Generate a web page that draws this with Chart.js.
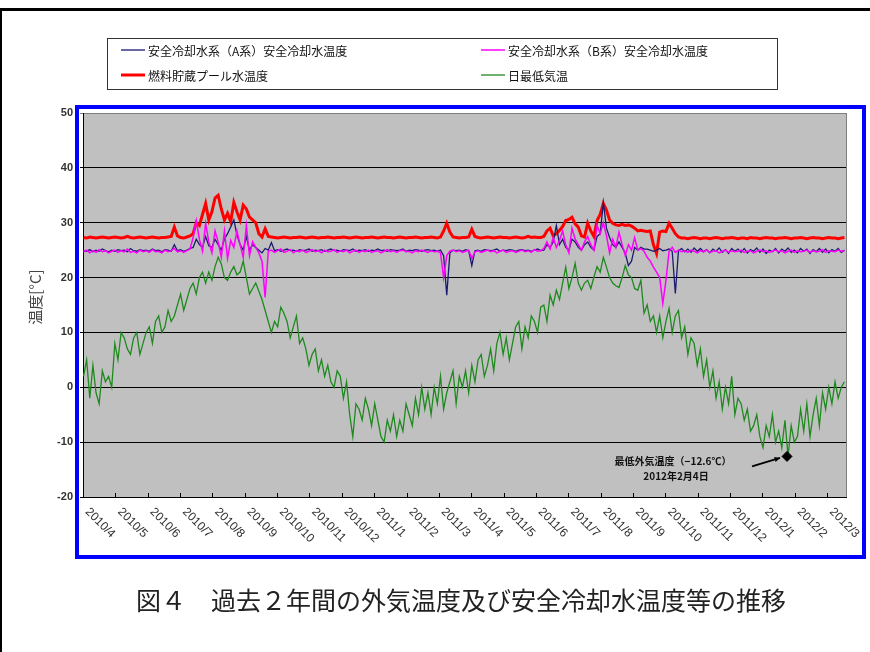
<!DOCTYPE html>
<html><head><meta charset="utf-8">
<script src="https://cdn.jsdelivr.net/npm/chart.js@4.4.1/dist/chart.umd.min.js"></script>
<style>html,body{margin:0;padding:0;background:#fff}canvas{display:block}</style>
</head><body>
<canvas id="c" width="870" height="652"></canvas>
<script>
// ---- names / labels ----
const seriesNames = ['安全冷却水系（A系）安全冷却水温度', '安全冷却水系（B系）安全冷却水温度', '燃料貯蔵プール水温度', '日最低気温'];
const xTickLabels = ['2010/4','2010/5','2010/6','2010/7','2010/8','2010/9','2010/10','2010/11','2010/12',
  '2011/1','2011/2','2011/3','2011/4','2011/5','2011/6','2011/7','2011/8','2011/9','2011/10','2011/11','2011/12',
  '2012/1','2012/2','2012/3'];
const chartTitle = '図４　過去２年間の外気温度及び安全冷却水温度等の推移';
const yTitle = '温度[°C]';
const noteLines = ['最低外気温度（−12.6℃）', '2012年2月4日'];

// days since 2010/4/1, one sample every 3 days
const dayIndex = Array.from({length: 244}, (_, i) => i * 3);
const totalDays = 731;
const daysPerLabel = 31;
const lowestDay = 674;      // 2012/2/4
const lowestValue = -12.6;

// 安全冷却水系（A系）
const coolingA = [
 24.9,24.8,25.1,24.7,25.0,24.8,25.2,24.9,24.7,25.0,
 24.8,25.1,24.9,25.0,24.7,25.3,24.9,24.8,25.1,24.9,
 25.0,24.8,25.2,24.9,25.0,24.7,25.1,25.0,24.8,26.0,
 24.9,25.1,24.8,25.0,25.3,25.5,27.0,26.0,25.5,27.5,
 25.8,25.5,27.0,26.0,25.0,27.0,28.0,29.2,30.5,27.8,
 26.0,25.0,27.5,25.0,26.0,25.5,25.0,24.5,25.3,25.0,
 26.4,24.9,25.1,24.8,25.0,25.2,24.9,25.0,24.8,25.1,
 24.9,25.0,25.2,24.8,25.0,24.9,25.1,24.8,25.0,25.2,
 24.9,25.0,24.8,25.1,25.0,24.9,25.2,24.8,25.0,24.9,
 25.1,24.8,25.0,24.9,25.2,24.9,25.0,24.8,25.1,25.0,
 24.9,25.0,25.2,24.8,25.0,24.9,25.1,25.0,24.8,25.0,
 25.1,24.9,25.0,24.8,25.0,24.0,16.8,24.5,25.0,24.9,
 25.0,24.8,25.1,24.9,22.2,24.9,25.0,24.8,25.1,25.0,
 24.9,25.0,25.2,24.8,25.0,24.9,25.1,25.0,24.8,25.0,
 25.1,24.9,25.0,24.8,25.0,25.2,24.9,25.0,26.0,25.5,
 26.5,29.5,26.0,27.0,25.5,25.0,27.0,26.5,25.5,25.0,
 26.0,26.5,25.5,25.0,27.5,28.0,33.7,29.0,27.3,26.0,
 25.5,26.5,25.5,24.5,22.2,23.0,25.5,25.0,25.5,25.2,
 25.2,25.0,24.8,25.0,25.3,24.9,25.0,25.2,24.8,17.1,
 24.9,25.3,24.7,25.2,24.6,25.4,24.8,25.3,24.7,25.1,
 24.5,25.2,24.8,25.4,24.6,25.1,24.4,25.3,24.8,25.2,
 24.6,25.3,24.5,25.1,24.8,25.4,24.6,25.2,24.4,25.0,
 24.7,25.3,24.5,25.2,24.8,25.4,24.6,25.0,24.5,25.3,
 24.8,25.2,24.4,25.1,24.7,25.3,24.6,25.2,24.5,25.1,
 24.8,25.3,24.6,25.0
];

// 安全冷却水系（B系）
const coolingB = [
 24.7,25.0,24.5,24.9,24.6,25.1,24.7,24.9,24.5,24.8,
 25.0,24.6,24.9,24.7,25.2,24.6,24.8,24.5,25.0,24.7,
 24.9,24.6,25.1,24.7,24.8,24.5,25.0,24.7,24.9,25.3,
 24.7,24.9,24.6,24.9,25.2,27.3,30.4,27.0,24.8,29.9,
 26.5,24.5,28.5,26.5,23.7,28.5,23.5,26.8,25.5,28.5,
 26.0,23.7,29.5,24.0,26.5,25.5,24.5,23.0,16.4,24.8,
 25.0,24.6,24.9,25.2,24.6,24.8,25.1,24.5,24.9,24.7,
 25.0,24.6,24.8,25.1,24.7,24.9,24.5,25.0,24.7,24.8,
 25.1,24.6,24.9,24.7,25.0,24.5,24.8,25.0,24.6,24.9,
 24.7,25.0,24.6,24.8,24.9,24.5,24.8,25.1,24.7,24.9,
 24.6,24.9,25.0,24.7,24.8,24.5,24.9,24.7,25.0,24.8,
 24.6,24.9,24.7,24.8,24.5,20.0,24.0,24.8,25.0,24.7,
 24.9,24.6,24.8,25.0,23.5,24.7,24.9,24.6,24.8,25.0,
 24.7,24.9,24.5,24.8,25.0,24.6,24.8,24.9,24.6,24.8,
 25.0,24.7,24.9,24.6,25.1,24.8,24.9,25.3,26.5,25.2,
 27.3,25.5,26.8,28.5,26.0,24.5,29.0,27.0,26.0,25.0,
 26.5,27.5,26.0,25.0,29.5,28.0,30.0,27.7,24.5,27.0,
 25.5,28.3,26.0,24.0,26.0,25.0,27.3,25.0,25.3,24.8,
 23.7,23.0,21.9,21.0,20.0,15.3,19.5,24.8,25.5,24.6,
 25.0,24.7,24.9,24.6,25.0,24.8,24.5,24.9,24.7,25.0,
 24.6,24.8,24.9,24.5,24.8,25.0,24.6,24.9,24.7,24.8,
 25.0,24.6,24.8,24.9,24.5,24.8,25.0,24.7,24.9,24.6,
 24.8,25.0,24.7,24.9,24.5,24.8,25.0,24.6,24.9,24.7,
 24.8,25.0,24.6,24.9,24.7,24.8,25.1,24.6,24.9,24.8,
 24.7,25.0,24.8,24.9
];

// 燃料貯蔵プール水温度
const poolTemp = [
 27.3,27.2,27.4,27.3,27.2,27.3,27.4,27.3,27.2,27.3,
 27.4,27.3,27.2,27.3,27.5,27.3,27.2,27.3,27.4,27.3,
 27.2,27.3,27.4,27.3,27.2,27.3,27.3,27.4,27.5,29.2,
 27.6,27.3,27.2,27.4,27.6,28.0,30.0,29.5,31.5,33.5,
 30.5,32.0,34.5,35.0,32.5,30.5,31.7,30.2,33.7,32.0,
 30.5,33.2,32.5,31.0,30.5,30.0,28.0,27.4,28.9,27.5,
 27.4,27.3,27.2,27.3,27.4,27.3,27.2,27.3,27.3,27.4,
 27.3,27.2,27.3,27.4,27.3,27.2,27.3,27.3,27.4,27.3,
 27.2,27.3,27.3,27.4,27.3,27.2,27.3,27.4,27.3,27.2,
 27.3,27.3,27.4,27.3,27.2,27.3,27.4,27.3,27.3,27.2,
 27.3,27.4,27.3,27.2,27.3,27.3,27.4,27.3,27.2,27.3,
 27.3,27.4,27.3,27.2,27.4,28.5,29.9,28.3,27.4,27.3,
 27.2,27.3,27.3,27.4,28.8,27.5,27.3,27.2,27.3,27.4,
 27.3,27.2,27.3,27.4,27.3,27.3,27.2,27.3,27.4,27.3,
 27.2,27.3,27.5,27.3,27.4,27.3,27.3,27.5,28.5,29.0,
 27.6,28.0,28.6,29.3,30.4,30.6,31.0,29.8,29.2,27.6,
 27.4,29.9,28.5,27.5,30.4,31.5,33.5,32.3,30.5,29.9,
 29.6,29.5,29.7,29.5,29.6,29.4,29.0,28.5,28.6,28.5,
 28.4,28.5,26.0,24.4,28.3,28.5,28.4,29.9,29.0,28.0,
 27.4,27.2,27.2,27.1,27.2,27.3,27.2,27.1,27.2,27.2,
 27.1,27.2,27.3,27.2,27.1,27.2,27.2,27.3,27.2,27.1,
 27.2,27.2,27.1,27.3,27.2,27.2,27.1,27.2,27.3,27.2,
 27.2,27.1,27.2,27.2,27.3,27.2,27.1,27.2,27.2,27.3,
 27.2,27.1,27.2,27.3,27.2,27.2,27.1,27.2,27.3,27.2,
 27.2,27.1,27.2,27.3
];

// 日最低気温
const dailyMin = [
 2,5,-2,4,-1,-3,3,1,2,0,
 8,5,10,9,7,6,9,10,6,8,
 10,11,8,12,13,10,11,14,12,13,
 15,17,14,16,18,19,17,20,21,19,
 21,19.5,22,23.7,22.5,20,19.5,21,22,20.5,
 21,23,20,17,18,19,17.5,16,14,12,
 10,12,11,14.6,13.5,12,9,11,13,8,
 9,7,4,6,7,3,5,2,4,1,
 0,3,2,-2,1,-5,-9,-3,-4,-6,
 -2,-4,-7,-3,-6,-9,-10,-6,-8,-5,
 -9,-6,-8,-3,-5,-7,-2,-5,0,-4,
 -1,-5,0,-3,2,-4,-1,1,3,-3,
 2,0,3,-1,4,1,5,6,2,4,
 7,3,8,10,6,9,5,8,11,12,
 7,11,9,13,12,10,14.6,15,12,16.8,
 15,17.7,16,19,21.9,18,20,22.6,19,17.7,
 19,19.5,18,20.1,22,21,23.7,21.9,20,19,
 18.5,18.2,20,22.2,20.5,20,18,17.7,19.5,13.5,
 15,12,13,10,13,9,12,14.4,10,13,
 14,9,11,6,9,8,4,7,2,5,
 0,3,-2,1,-4,0,-3,2,-5,-2,
 -3,-6,-4,-8,-7,-5,-9,-11,-7,-9,
 -5,-10,-8,-11,-6,-12.6,-7,-10,-9,-4,
 -8,-3,-9,-5,-2,-7,-1,-4,0,-3,
 1,-2,0,1
];

const toPoints = vals => dayIndex.map((d, i) => ({x: d + 0.5, y: vals[i]}));

const decor = {
  id: 'decor',
  beforeDraw(chart) {
    const {ctx, chartArea: a} = chart;
    ctx.save();
    ctx.fillStyle = '#fff';
    ctx.fillRect(0, 0, chart.width, chart.height);
    ctx.fillStyle = '#c0c0c0';
    ctx.fillRect(a.left, a.top, a.right - a.left, a.bottom - a.top);
    ctx.restore();
  },
  afterDraw(chart) {
    const {ctx, chartArea: a, scales: {x, y}} = chart;
    const ds = chart.data.datasets;
    ctx.save();
    // right border of plot
    ctx.strokeStyle = '#808080'; ctx.lineWidth = 1;
    const rx = Math.round(a.right) + 0.5;
    ctx.beginPath(); ctx.moveTo(rx, a.top); ctx.lineTo(rx, a.bottom); ctx.stroke();
    // x tick marks (inside)
    ctx.strokeStyle = '#000';
    for (let k = 1; k * daysPerLabel < totalDays - 10; k++) {
      const px = Math.round(x.getPixelForValue(k * daysPerLabel)) + 0.5;
      ctx.beginPath(); ctx.moveTo(px, a.bottom); ctx.lineTo(px, a.bottom - 4); ctx.stroke();
    }
    // x labels rotated
    ctx.font = '12px "Liberation Sans", Arial, sans-serif';
    ctx.fillStyle = '#333'; ctx.textAlign = 'left'; ctx.textBaseline = 'middle';
    xTickLabels.forEach((lab, k) => {
      const cx = x.getPixelForValue(k * daysPerLabel + daysPerLabel / 2);
      ctx.save(); ctx.translate(cx - 12, a.bottom + 13); ctx.rotate(Math.PI / 4);
      ctx.fillText(lab, 0, 0); ctx.restore();
    });
    // y title
    ctx.save(); ctx.translate(35, 297); ctx.rotate(-Math.PI / 2);
    ctx.font = '15px "Noto Sans CJK JP", sans-serif'; ctx.fillStyle = '#444';
    ctx.textAlign = 'center'; ctx.textBaseline = 'middle';
    ctx.fillText(yTitle, 0, 0); ctx.restore();
    // legend box
    ctx.strokeStyle = '#333'; ctx.lineWidth = 1;
    ctx.strokeRect(107.5, 38.5, 670, 51);
    const byLabel = l => ds.find(d => d.label === l);
    const entries = [
      [seriesNames[0], 121, 50], [seriesNames[1], 481, 50],
      [seriesNames[2], 121, 75], [seriesNames[3], 481, 75]
    ];
    ctx.font = '12px "Noto Sans CJK JP", sans-serif';
    ctx.textBaseline = 'middle'; ctx.textAlign = 'left';
    entries.forEach(([name, lx, ly]) => {
      const d = byLabel(name);
      ctx.strokeStyle = d.borderColor; ctx.lineWidth = Math.max(1.2, d.borderWidth);
      ctx.beginPath(); ctx.moveTo(lx, ly); ctx.lineTo(lx + 24, ly); ctx.stroke();
      ctx.fillStyle = '#111';
      ctx.fillText(name, lx + 27, ly + 1);
    });
    // annotation
    const dx = x.getPixelForValue(lowestDay + 0.5), dy = y.getPixelForValue(lowestValue);
    ctx.font = 'bold 10px "Noto Sans CJK JP", sans-serif'; ctx.fillStyle = '#111'; ctx.textAlign = 'center';
    ctx.fillText(noteLines[0], dx - 114, dy + 5);
    ctx.fillText(noteLines[1], dx - 111, dy + 20);
    ctx.strokeStyle = '#000'; ctx.lineWidth = 1.8;
    const sx = dx - 35, sy = dy + 10, ex = dx - 7, ey = dy + 1.5;
    ctx.beginPath(); ctx.moveTo(sx, sy); ctx.lineTo(ex, ey); ctx.stroke();
    const ang = Math.atan2(ey - sy, ex - sx);
    ctx.fillStyle = '#000';
    ctx.beginPath(); ctx.moveTo(ex, ey);
    ctx.lineTo(ex - 6 * Math.cos(ang - 0.45), ey - 6 * Math.sin(ang - 0.45));
    ctx.lineTo(ex - 6 * Math.cos(ang + 0.45), ey - 6 * Math.sin(ang + 0.45));
    ctx.closePath(); ctx.fill();
    // title
    ctx.font = '25px "Noto Sans CJK JP", sans-serif'; ctx.fillStyle = '#222';
    ctx.textAlign = 'left'; ctx.textBaseline = 'middle';
    ctx.fillText(chartTitle, 136, 600);
    // outer frame lines
    ctx.fillStyle = '#000';
    ctx.fillRect(0, 8, chart.width, 3);
    ctx.fillRect(0, 8, 2, chart.height - 8);
    // blue frame
    ctx.strokeStyle = '#0000ff'; ctx.lineWidth = 4;
    ctx.strokeRect(77, 107, 787, 450);
    ctx.restore();
  }
};

new Chart(document.getElementById('c'), {
  type: 'line',
  data: {
    datasets: [
      {label: '最低外気温度', data: [{x: lowestDay + 0.5, y: lowestValue}], showLine: false,
       pointStyle: 'rectRot', pointRadius: 5, backgroundColor: '#000', borderColor: '#000', borderWidth: 1},
      {label: seriesNames[1], data: toPoints(coolingB), borderColor: '#ff00ff', borderWidth: 1.5, pointRadius: 0, tension: 0},
      {label: seriesNames[0], data: toPoints(coolingA), borderColor: '#1a1a70', borderWidth: 1.3, pointRadius: 0, tension: 0},
      {label: seriesNames[2], data: toPoints(poolTemp), borderColor: '#ff0000', borderWidth: 3, pointRadius: 0, tension: 0},
      {label: seriesNames[3], data: toPoints(dailyMin), borderColor: '#1e8a1e', borderWidth: 1.3, pointRadius: 0, tension: 0}
    ]
  },
  options: {
    responsive: false, animation: false, devicePixelRatio: 1,
    layout: {padding: {left: 0, top: 113, right: 24, bottom: 0}, autoPadding: false},
    plugins: {legend: {display: false}, tooltip: {enabled: false}},
    elements: {point: {hoverRadius: 0}},
    scales: {
      x: {
        type: 'linear', min: 0, max: totalDays,
        ticks: {display: false},
        grid: {display: false},
        border: {display: true, color: '#000', width: 1},
        afterFit: s => { s.height = 155; }
      },
      y: {
        type: 'linear', min: -20, max: 50,
        ticks: {stepSize: 10, color: '#333', padding: 7,
                font: {family: '"Liberation Sans", Arial, sans-serif', size: 11, weight: 'bold'}},
        grid: {color: c => (c.tick && c.tick.value === 50) ? '#808080' : '#000', lineWidth: 1, tickLength: 3},
        border: {display: true, color: '#000', width: 1},
        afterFit: s => { s.width = 83; }
      }
    }
  },
  plugins: [decor]
});
</script>
</body></html>
